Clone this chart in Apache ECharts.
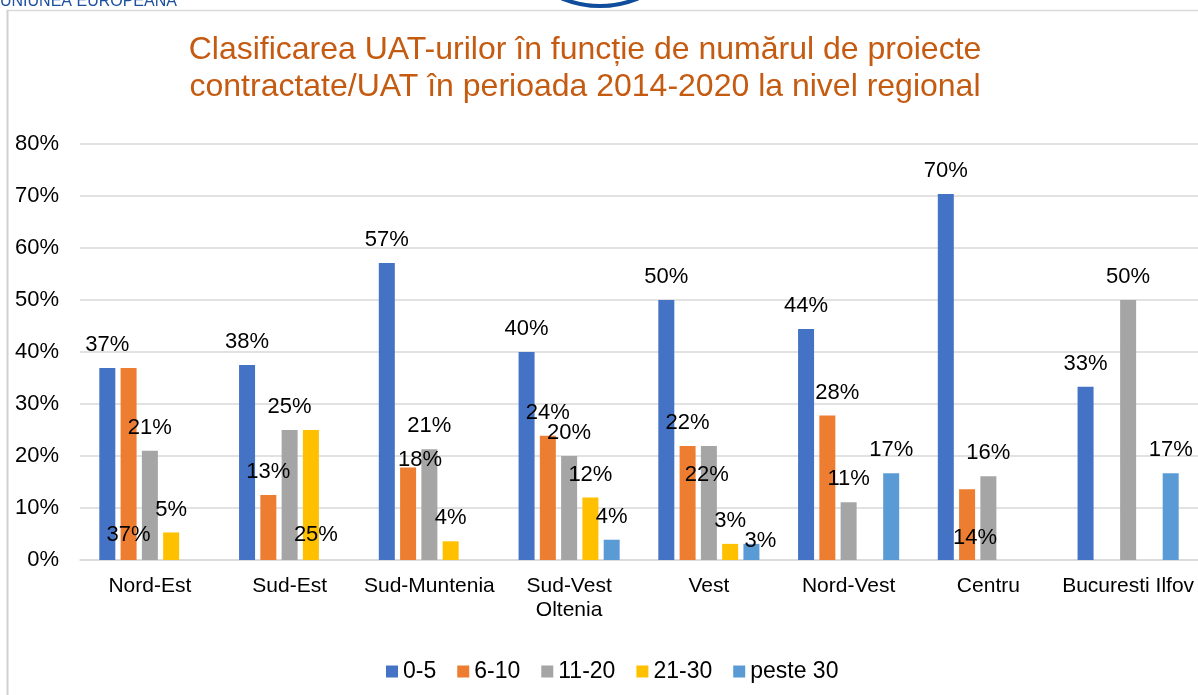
<!DOCTYPE html>
<html lang="ro">

<head>
    <meta charset="UTF-8">
    <meta name="viewport" content="width=device-width, initial-scale=1.0">
    <title>Clasificarea UAT-urilor</title>
</head>

<style>
    html,
    body {
        margin: 0;
        padding: 0;
        background: #fff;
    }

    #chart {
        width: 1198px;
        height: 695px;
    }
</style>

<body>
    <div id="chart"></div>
</body>

</html>

<script src="https://cdn.jsdelivr.net/npm/echarts@6/dist/echarts.min.js"></script>

<script>
    let color = ['#4472C4', '#ED7D31', '#A5A5A5', '#FFC000', '#5B9BD5'];

    let regions = ['Nord-Est', 'Sud-Est', 'Sud-Muntenia', 'Sud-Vest\nOltenia', 'Vest', 'Nord-Vest', 'Centru', 'Bucuresti Ilfov'];
    let seriesNames = ['0-5', '6-10', '11-20', '21-30', 'peste 30'];

    // procente ('-' = fara bara)
    let val_0_5 = [36.9, 37.5, 57.1, 40.0, 50.0, 44.4, 70.4, 33.3];
    let val_6_10 = [36.9, 12.5, 17.8, 23.9, 21.9, 27.8, 13.6, '-'];
    let val_11_20 = [21.0, 25.0, 21.3, 20.0, 21.9, 11.1, 16.1, 50.0];
    let val_21_30 = [5.3, 25.0, 3.6, 12.0, 3.1, '-', '-', '-'];
    let val_peste30 = ['-', '-', '-', 3.9, 3.1, 16.7, '-', 16.7];

    let yTicks = [0, 10, 20, 30, 40, 50, 60, 70, 80];

    let allValues = [val_0_5, val_6_10, val_11_20, val_21_30, val_peste30];

    // etichetele care nu stau deasupra barei in original
    let labelFix = {
        '1-0': { position: 'insideBottom', distance: 14 },
        '3-1': { position: 'insideBottom', distance: 14, offset: [5, 0] },
        '1-6': { position: 'insideBottom', distance: 11, offset: [8, 0] },
        '1-2': { offset: [12, 15] },
        '2-4': { offset: [-2, 52] },
        '4-4': { offset: [9, 20] },
        '1-5': { offset: [10, 0] }
    };

    var myChart = echarts.init(document.getElementById('chart'));

    var font = '"Liberation Sans", Arial, sans-serif';

    var series = seriesNames.map(function (name, s) {
        return {
            name: name,
            type: 'bar',
            barWidth: 16,
            barGap: '33%',
            label: {
                show: true,
                position: 'top',
                distance: 12,
                color: '#000',
                fontSize: 22,
                fontFamily: font,
                formatter: function (p) {
                    return Math.round(p.value) + '%';
                }
            },
            data: allValues[s].map(function (v, c) {
                var fix = labelFix[s + '-' + c];
                if (fix) {
                    return { value: v, label: fix };
                }
                return v;
            })
        };
    });

    option = {
        color: color,
        animation: false,
        textStyle: { fontFamily: font },
        title: {
            text: 'Clasificarea UAT-urilor în funcție de numărul de proiecte\ncontractate/UAT în perioada 2014-2020 la nivel regional',
            left: 585,
            textAlign: 'center',
            top: 32,
            padding: 0,
            textStyle: {
                color: '#C55A11',
                fontWeight: 'normal',
                fontSize: 32,
                lineHeight: 37,
                fontFamily: font
            }
        },
        legend: {
            left: 381,
            top: 655,
            itemWidth: 12,
            itemHeight: 12,
            itemGap: 21,
            icon: 'rect',
            textStyle: {
                color: '#000',
                fontSize: 23,
                fontFamily: font
            },
            data: seriesNames
        },
        grid: {
            left: 80,
            top: 144,
            width: 1120,
            bottom: 135,
            containLabel: false
        },
        xAxis: {
            type: 'category',
            data: regions,
            axisTick: { show: false },
            axisLine: { lineStyle: { color: '#D9D9D9', width: 1.5 } },
            axisLabel: {
                interval: 0,
                margin: 14,
                color: '#000',
                fontSize: 21,
                lineHeight: 24,
                fontFamily: font
            }
        },
        yAxis: {
            type: 'value',
            min: yTicks[0],
            max: yTicks[yTicks.length - 1],
            interval: 10,
            axisLine: { show: false },
            axisTick: { show: false },
            splitLine: { lineStyle: { color: '#D9D9D9', width: 1.5 } },
            axisLabel: {
                formatter: '{value}%',
                margin: 21,
                color: '#000',
                fontSize: 22,
                fontFamily: font
            }
        },
        graphic: [
            {
                type: 'text',
                left: 0,
                top: -6,
                style: {
                    text: 'UNIUNEA EUROPEANA',
                    fill: '#1E50A0',
                    fontSize: 16,
                    fontFamily: font
                }
            },
            {
                type: 'circle',
                shape: { cx: 600, cy: -93, r: 99 },
                style: { fill: 'none', stroke: '#0F4C9C', lineWidth: 4 }
            },
            {
                type: 'line',
                shape: { x1: 7, y1: 10.5, x2: 1198, y2: 10.5 },
                style: { stroke: '#D9D9D9', lineWidth: 1.5 }
            },
            {
                type: 'line',
                shape: { x1: 7.5, y1: 10, x2: 7.5, y2: 695 },
                style: { stroke: '#D0D0D0', lineWidth: 2 }
            }
        ],
        series: series
    };

    myChart.setOption(option);
    window.addEventListener('resize', function () {
        myChart.resize();
    });
</script>
